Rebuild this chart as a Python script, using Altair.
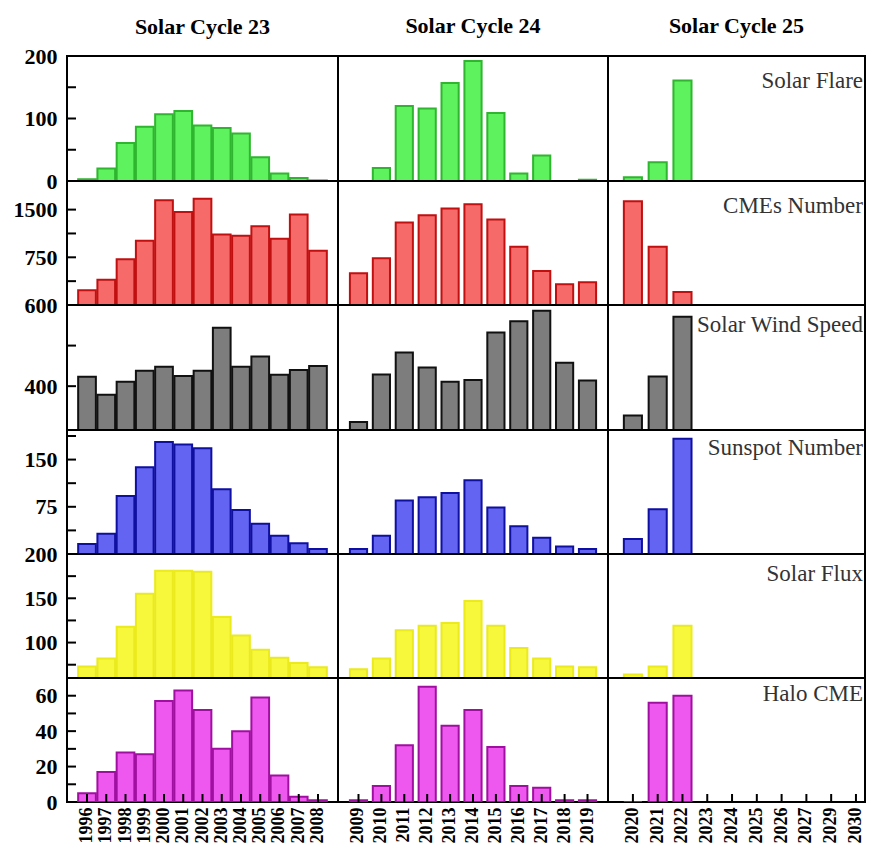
import altair as alt
import pandas as pd

cycle_titles = ["Solar Cycle 23", "Solar Cycle 24", "Solar Cycle 25"]
years_23 = ["1996", "1997", "1998", "1999", "2000", "2001", "2002", "2003", "2004", "2005", "2006", "2007", "2008"]
years_24 = ["2009", "2010", "2011", "2012", "2013", "2014", "2015", "2016", "2017", "2018", "2019"]
years_25 = ["2020", "2021", "2022", "2023", "2024", "2025", "2026", "2027", "2029", "2030"]

series_names = ["Solar Flare", "CMEs Number", "Solar Wind Speed", "Sunspot Number", "Solar Flux", "Halo CME"]

flare_23 = [3, 20, 61, 87, 107, 112, 89, 85, 76, 38, 12, 5, 1]
flare_24 = [0, 21, 120, 116, 157, 192, 109, 12, 41, 0, 2]
flare_25 = [6, 30, 161]

cme_23 = [230, 396, 719, 1011, 1646, 1464, 1672, 1109, 1089, 1240, 1042, 1422, 855]
cme_24 = [500, 734, 1297, 1411, 1516, 1583, 1344, 917, 536, 328, 359]
cme_25 = [1630, 917, 203]

wind_23 = [423, 379, 411, 438, 448, 425, 438, 544, 448, 473, 428, 440, 450]
wind_24 = [312, 429, 483, 446, 411, 415, 532, 560, 586, 458, 414]
wind_25 = [328, 424, 571]

sunspot_23 = [16, 32, 92, 138, 178, 174, 168, 103, 70, 48, 29, 17, 8]
sunspot_24 = [8, 29, 85, 90, 97, 117, 74, 44, 26, 12, 8]
sunspot_25 = [24, 71, 183]

flux_23 = [73, 82, 118, 155, 181, 181, 180, 129, 108, 92, 83, 77, 72]
flux_24 = [70, 82, 114, 119, 122, 147, 119, 94, 82, 73, 72]
flux_25 = [64, 73, 119]

halo_23 = [5, 17, 28, 27, 57, 63, 52, 30, 40, 59, 15, 3, 1]
halo_24 = [1, 9, 32, 65, 43, 52, 31, 9, 8, 1, 1]
halo_25 = [0, 56, 60]

y_domains = [[0, 200], [0, 1950], [292, 600], [0, 197], [60, 200], [0, 70]]
y_labels = [[0, 100, 200], [750, 1500], [400, 600], [75, 150], [100, 150, 200], [0, 20, 40, 60]]
y_ticks = [[50, 100, 150], [375, 750, 1125, 1500], [400, 500], [37.5, 75, 112.5, 150, 187.5],
           [75, 100, 125, 150, 175], [10, 20, 30, 40, 50, 60]]

fills = ["#5ef25e", "#f76a6a", "#7d7d7d", "#6464f2", "#f7f73c", "#ee58ee"]
strokes = ["#2fb52f", "#c01010", "#111111", "#1010a0", "#eaea1e", "#a010a0"]

data = [
    [flare_23, flare_24, flare_25],
    [cme_23, cme_24, cme_25],
    [wind_23, wind_24, wind_25],
    [sunspot_23, sunspot_24, sunspot_25],
    [flux_23, flux_24, flux_25],
    [halo_23, halo_24, halo_25],
]
years = [years_23, years_24, years_25]

col_widths = [271, 270, 257]
row_heights = [125, 124, 125, 124, 124, 124]
pad_inner = [0.08, 0.25, 0.27]
pad_outer = [0.58, 0.52, 0.32]
band_align = [0.5, 0.5, 1.0]
label_dy = [25, 25, 20, 18, 20, 16]
title_offsets = [6, 18, 18]

SERIF = "Liberation Serif"

cells = []
for r in range(6):
    for c in range(3):
        w, h = col_widths[c], row_heights[r]
        vals = data[r][c]
        df = pd.DataFrame({"year": years[c][:len(vals)], "value": vals})
        xscale = alt.Scale(domain=years[c], paddingInner=pad_inner[c], paddingOuter=pad_outer[c],
                           align=band_align[c])
        yscale = alt.Scale(domain=y_domains[r], nice=False, zero=False)
        if r == 5:
            xaxis = alt.Axis(title=None, labelAngle=270, labelFont=SERIF, labelFontSize=18,
                             labelFontWeight="bold", labelColor="black", ticks=False, tickSize=0,
                             domain=False, grid=False, labelPadding=5)
        else:
            xaxis = None
        if c == 0:
            yaxis = alt.Axis(title=None, values=y_labels[r], format="d", labelFont=SERIF,
                             labelFontSize=22, labelFontWeight="bold", labelColor="black",
                             ticks=False, tickSize=0, domain=False, grid=False, labelPadding=10)
        else:
            yaxis = None
        bars = alt.Chart(df).mark_bar(
            fill=fills[r], stroke=strokes[r], strokeWidth=2, clip=True
        ).encode(
            x=alt.X("year:N", scale=xscale, axis=xaxis, sort=None),
            y=alt.Y("value:Q", scale=yscale, axis=yaxis),
            y2=alt.datum(y_domains[r][0]),
        )
        layers = [bars]
        if c == 0:
            tdf = pd.DataFrame({"t": y_ticks[r]})
            layers.append(alt.Chart(tdf).mark_rule(color="black", strokeWidth=2).encode(
                y=alt.Y("t:Q", scale=yscale, axis=yaxis), x=alt.value(0), x2=alt.value(9)))
        if r == 5:
            xdf = pd.DataFrame({"year": years[c]})
            layers.append(alt.Chart(xdf).mark_rule(color="black", strokeWidth=2).encode(
                x=alt.X("year:N", scale=xscale, axis=xaxis, sort=None),
                y=alt.value(h), y2=alt.value(h - 8)))
        if c == 2:
            ldf = pd.DataFrame({"label": [series_names[r]]})
            layers.append(alt.Chart(ldf).mark_text(
                align="right", baseline="middle", font=SERIF, fontSize=23, color="#333333"
            ).encode(x=alt.value(w - 2), y=alt.value(label_dy[r]), text="label:N"))
        cell = alt.layer(*layers).properties(width=w, height=h)
        if r == 0:
            cell = cell.properties(title=alt.TitleParams(
                cycle_titles[c], font=SERIF, fontSize=22, fontWeight="bold", color="black",
                offset=title_offsets[c], anchor="middle", frame="group"))
        cells.append(cell)

chart = alt.concat(*cells, columns=3, spacing=0, bounds="flush", align="each").properties(
    padding={"left": 4, "top": 6, "right": 0, "bottom": 0}
).configure(background="white").configure_view(stroke="black", strokeWidth=2)

chart.save("out.html", embed_options={"renderer": "svg", "actions": False})
